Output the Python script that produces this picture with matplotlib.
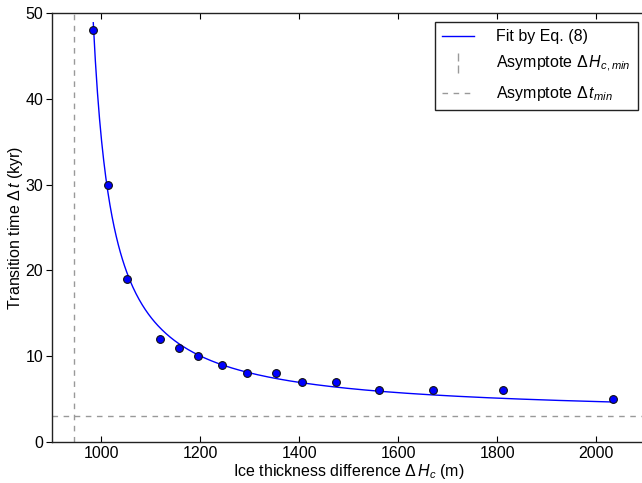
import numpy as np
import matplotlib
matplotlib.use("Agg")
import matplotlib.pyplot as plt
from matplotlib.lines import Line2D
from matplotlib.path import Path

# Data
ice_thickness_diff = [984, 1013, 1052, 1118, 1157, 1196, 1244, 1295, 1353,
                      1406, 1474, 1561, 1670, 1811, 2034]
transition_time = [48, 30, 19, 12, 11, 10, 9, 8, 8, 7, 7, 6, 6, 6, 5]

# Fit parameters (Eq. 8): dt = dt_min + a / (dH - dH_min)
H_c_min = 945
t_min = 3
fit_a = 1790

x_ticks = [1000, 1200, 1400, 1600, 1800, 2000]
y_ticks = [0, 10, 20, 30, 40, 50]

plt.rcParams['font.family'] = ['Liberation Sans', 'DejaVu Sans']
plt.rcParams['mathtext.fontset'] = 'custom'
plt.rcParams['mathtext.rm'] = 'Liberation Sans'
plt.rcParams['mathtext.it'] = 'Liberation Sans:italic'
plt.rcParams['mathtext.bf'] = 'Liberation Sans:bold'

FS = 11.5

fig = plt.figure(figsize=(6.42, 4.83), dpi=100)
ax = fig.add_axes([51.7 / 642, 1 - 441.8 / 483, (645.8 - 51.7) / 642, (441.8 - 13.3) / 483])

H_fit = np.linspace(min(ice_thickness_diff), max(ice_thickness_diff), 500)
t_fit = t_min + fit_a / (H_fit - H_c_min)

ax.plot(H_fit, t_fit, color='#0000ff', lw=1.0, zorder=3)
ax.axvline(H_c_min, color='#999999', lw=1.0, ls=(0, (4, 4)), zorder=2)
ax.axhline(t_min, color='#999999', lw=1.0, ls=(0, (4, 4)), zorder=2)
ax.plot(ice_thickness_diff, transition_time, 'o', color='#0000ff',
        markeredgecolor='#111111', markeredgewidth=0.8, markersize=5.6, zorder=4)

ax.set_xlim(900, 2100)
ax.set_ylim(0, 50)
ax.set_xticks(x_ticks)
ax.set_yticks(y_ticks)
ax.tick_params(axis='x', direction='in', top=True, bottom=True, length=4,
               labelsize=FS, width=0.8, pad=3)
ax.tick_params(axis='y', direction='out', left=True, right=False, length=4,
               labelsize=FS, width=0.8, pad=2)
for s in ax.spines.values():
    s.set_linewidth(1.0)
    s.set_color('#222222')

ax.set_xlabel(r'Ice thickness difference $\Delta\,H_c$ (m)', fontsize=FS, labelpad=1)
ax.set_ylabel(r'Transition time $\Delta\,t$ (kyr)', fontsize=FS)
ax.yaxis.set_label_coords(-0.045, 0.5)

vmarker = Path([(0, -1), (0, -0.2), (0, 0.2), (0, 1)],
               [Path.MOVETO, Path.LINETO, Path.MOVETO, Path.LINETO])
handles = [
    Line2D([], [], color='#0000ff', lw=1.0),
    Line2D([], [], ls='None', marker=vmarker, markersize=14,
           markeredgecolor='#999999', markeredgewidth=1.0),
    Line2D([], [], color='#999999', lw=1.0, ls=(0, (4, 4))),
]
labels = ['Fit by Eq. (8)', r'Asymptote $\Delta\,H_{c,min}$', r'Asymptote $\Delta\,t_{min}$']
leg = ax.legend(handles, labels, loc='upper right', bbox_to_anchor=(638 / 642, 1 - 22 / 483),
                bbox_transform=fig.transFigure, fontsize=FS, fancybox=False,
                edgecolor='#222222', framealpha=1, handlelength=2.0,
                borderpad=0.45, labelspacing=0.62, handletextpad=1.4, borderaxespad=0)
leg.get_frame().set_linewidth(1.0)

fig.savefig('out.png', dpi=100)
